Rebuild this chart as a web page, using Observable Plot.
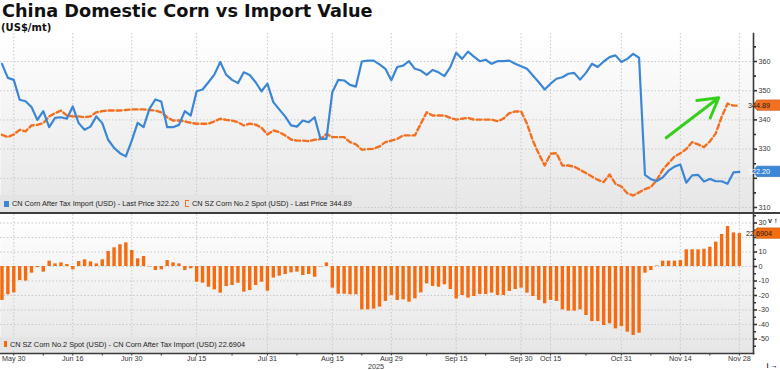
<!DOCTYPE html>
<html><head><meta charset="utf-8">
<script src="https://cdn.jsdelivr.net/npm/d3@7"></script>
<script src="https://cdn.jsdelivr.net/npm/@observablehq/plot@0.6"></script>
<style>
html,body{margin:0;padding:0;background:#fff;}
#root{position:relative;width:780px;height:370px;overflow:hidden;background:#fff;}
#title{position:absolute;left:2px;top:3px;font:bold 17.7px/17.7px "DejaVu Sans",sans-serif;color:#111;white-space:nowrap;}
#sub{position:absolute;left:1px;top:22.5px;font:bold 10px/10px "DejaVu Sans",sans-serif;color:#111;}
#top{position:absolute;left:0;top:33px;width:780px;}
#bot{position:absolute;left:0;top:214px;width:780px;}
#divider{position:absolute;left:0;top:211.8px;width:780px;height:2.6px;background:#3e3e3e;}
.leg{position:absolute;left:0;background:#e4e4e4;font:7.3px "Liberation Sans",Arial,sans-serif;color:#222;white-space:nowrap;display:flex;align-items:center;}
.sw{display:inline-block;width:5px;height:6px;margin:0 3px 0 4px;}
svg{display:block;}
</style></head><body>
<div id="root">
 <div id="title">China Domestic Corn vs Import Value</div>
 <div id="sub">(US$/mt)</div>
 <div id="top"></div>
 <div id="bot"></div>
 <div id="divider"></div>
 <div class="leg" id="leg1" style="top:195px;height:17px;width:352px;"></div>
 <div class="leg" id="leg2" style="top:337px;height:14px;width:245px;"></div>
</div>
<script>
// CN Corn After Tax Import (USD) - one value per trading day, May 28 .. Nov 28 2025
const importPrice = [
 359.2,354.4,353.7,346.9,346.4,344.4,340.0,343.0,337.5,340.7,
 340.9,340.4,344.6,338.9,336.6,337.7,341.2,338.9,333.2,330.4,
 328.6,327.5,332.9,339.0,337.5,343.8,347.0,346.3,337.5,337.5,
 338.3,343.0,341.5,349.8,350.4,352.9,355.5,359.8,355.5,353.7,
 352.6,356.3,355.4,352.9,349.8,352.4,346.1,343.6,341.2,338.1,
 337.7,339.8,339.2,340.9,333.5,333.5,349.5,353.7,353.5,352.0,
 351.4,360.0,360.3,360.3,359.0,357.5,353.6,358.1,358.6,360.1,
 357.5,356.9,355.4,357.1,356.3,355.0,358.1,363.0,360.9,363.4,
 361.7,360.1,360.6,359.2,360.1,360.1,360.3,359.2,358.4,357.5,
 355.2,352.9,350.4,352.4,354.1,354.6,355.8,356.1,353.8,356.1,
 359.2,358.1,360.0,361.5,362.1,359.8,360.9,362.6,361.3,321.2,
 319.7,319.1,320.3,322.6,324.0,324.7,318.5,321.0,321.2,318.9,
 319.8,319.0,319.0,318.1,322.0,322.20];
// CN SZ Corn No.2 Spot (USD)
const spotPrice = [
 334.9,334.1,335.0,336.6,336.1,338.1,338.3,338.9,341.2,342.3,
 343.2,341.5,341.2,341.2,340.9,341.2,342.6,343.0,343.2,343.2,
 343.2,343.4,343.6,343.6,343.6,343.4,343.2,342.6,340.9,339.8,
 339.8,339.5,339.0,338.7,338.7,338.7,339.5,340.4,340.0,339.8,
 339.2,338.1,338.7,338.4,337.3,335.0,336.4,335.8,334.7,333.3,
 332.9,332.9,332.7,333.2,333.4,335.2,334.1,334.1,334.1,332.4,
 331.6,329.8,330.0,330.1,330.9,332.4,332.9,333.5,334.7,334.7,
 334.7,338.7,342.6,341.5,341.5,341.5,340.7,340.1,340.4,340.7,
 340.1,340.1,340.1,340.1,339.6,340.4,342.3,342.9,342.9,338.7,
 332.9,328.4,324.4,328.4,328.6,324.4,324.4,324.0,322.9,321.8,
 320.6,319.5,318.7,321.3,318.1,317.2,314.9,314.1,315.2,316.3,
 317.0,319.4,322.9,325.2,327.4,328.6,330.0,332.4,331.6,330.7,
 332.6,335.4,341.0,345.6,344.9,344.89];
// Spread: Spot - After Tax Import (USD)
const spread = [
 -23.4,-19.5,-18.2,-9.7,-10.1,-4.6,-0.8,-3.9,3.7,1.8,
 2.5,1.4,-2.3,3.4,4.6,3.2,1.8,4.6,10.3,12.9,
 15.0,16.3,11.0,5.3,6.9,-0.3,-2.8,-2.3,4.1,2.5,
 1.8,-2.8,-1.6,-10.8,-11.5,-14.3,-16.1,-18.4,-13.8,-13.1,
 -11.5,-17.7,-16.6,-13.1,-10.8,-17.0,-8.0,-6.7,-5.5,-4.4,
 -3.9,-6.2,-5.5,-7.4,-0.3,2.5,-14.9,-19.1,-19.1,-19.5,
 -19.5,-29.9,-29.9,-29.4,-28.0,-24.1,-20.0,-23.4,-23.0,-24.6,
 -22.3,-18.2,-12.0,-13.8,-14.3,-12.6,-15.9,-22.3,-20.0,-21.8,
 -20.7,-19.3,-19.3,-18.4,-20.0,-20.0,-17.2,-15.9,-14.9,-18.4,
 -20.7,-23.4,-25.7,-23.4,-24.1,-29.9,-30.8,-30.8,-29.9,-33.8,
 -38.0,-38.0,-40.7,-39.5,-43.0,-41.4,-45.3,-47.6,-46.0,-4.6,
 -2.8,0.4,3.7,3.7,3.7,4.1,11.5,11.5,11.5,11.9,
 13.3,16.8,22.1,27.6,23.2,22.6904];

const tickIdx    = [2,12,22,33,45,56,66,77,88,93,105,115,125];
const tickLabels = ["May 30","Jun 16","Jun 30","Jul 15","Jul 31","Aug 15","Aug 29","Sep 15","Sep 30","Oct 15","Oct 31","Nov 14","Nov 28"];
const minorTickIdx = [7,17,27,39,50,61,72,82,99,110,120];
const yTicksTop = [310,320,330,340,350,360];
const yMinorTop = [315,325,335,345,355,365];
const yTicksBot = [-50,-40,-30,-20,-10,0,10,20,30];
const yMinorBot = [-55,-45,-35,-25,-15,-5,5,15,25,35];
// tick labels hidden behind the last-value tags in the reference
const hiddenTop = [320];
const hiddenBot = [20];
const yearLabel = [{i: 63.4, text: "2025"}];
const trendArrow = [{x1: 112.6, y1: 333.9, x2: 121.5, y2: 347.6}];

const names = {
  imp: "CN Corn After Tax Import (USD) - Last Price ",
  spot: "CN SZ Corn No.2 Spot (USD) - Last Price ",
  spread: "CN SZ Corn No.2 Spot (USD) - CN Corn After Tax Import (USD) "
};
const colors = {imp: "#3b87d6", spot: "#f37021", bar: "#f46b10", arrow: "#36cf1c"};

const xDomain = [-0.25, 127.4];
const labelMap = new Map(tickIdx.map((d, k) => [d, tickLabels[k]]));
const topData = importPrice.map((v, i) => ({i, imp: v, spot: spotPrice[i]}));
const botData = spread.map((v, i) => ({i, v}));
const font = "'Liberation Sans', Arial, sans-serif";
const gridStyle = {stroke: "#c9c9c9", strokeOpacity: 1, strokeDasharray: "1.5,2", strokeWidth: 1};
const axisStyle = {anchor: "right", tickSize: 3, tickPadding: 2, stroke: "#333", strokeWidth: 1.6, fill: "#333"};

function addGradient(svg, id) {
  const defs = d3.select(svg).insert("defs", ":first-child");
  const lg = defs.append("linearGradient").attr("id", id)
    .attr("x1", 0).attr("y1", 0).attr("x2", 0).attr("y2", 1);
  lg.append("stop").attr("offset", "0%").attr("stop-color", "#ffffff");
  lg.append("stop").attr("offset", "100%").attr("stop-color", "#e6e6e6");
}

function addTag(plot, value, text, fill, textFill) {
  const y = plot.scale("y").apply(value);
  const x0 = plot.scale("x").apply(xDomain[1]);
  const g = d3.select(plot).append("g");
  g.append("path")
    .attr("d", `M ${x0} ${y} L ${x0 + 4} ${y - 5.2} L 782 ${y - 5.2} L 782 ${y + 5.2} L ${x0 + 4} ${y + 5.2} Z`)
    .style("fill", fill).style("stroke", d3.color(fill).darker(0.5).formatHex()).style("stroke-width", "0.7px");
  g.append("text").attr("x", x0 + 6).attr("y", y).attr("dy", "0.36em")
    .style("font-family", font).style("font-size", "7.2px").style("fill", textFill).text(text);
}

const p1 = Plot.plot({
  width: 780, height: 179,
  marginLeft: 0, marginRight: 27, marginTop: 0, marginBottom: 0,
  style: {fontFamily: font, fontSize: "7.2px", color: "#333", background: "transparent", overflow: "visible"},
  x: {domain: xDomain, axis: null},
  y: {domain: [308.29, 369.59], axis: null},
  marks: [
    Plot.frame({fill: "url(#gTop)", stroke: "none"}),
    Plot.gridX(tickIdx, gridStyle),
    Plot.gridY(yTicksTop, gridStyle),
    Plot.line(topData, {x: "i", y: "spot", stroke: colors.spot, strokeWidth: 2.4, strokeDasharray: "5,3"}),
    Plot.line(topData, {x: "i", y: "imp", stroke: colors.imp, strokeWidth: 2.2}),
    Plot.arrow(trendArrow, {x1: "x1", y1: "y1", x2: "x2", y2: "y2", stroke: colors.arrow, strokeWidth: 3, headLength: 16, headAngle: 60}),
    Plot.axisY(yTicksTop, {...axisStyle, tickFormat: d => hiddenTop.includes(d) ? "" : d}),
    Plot.axisY(yMinorTop, {...axisStyle, tickSize: 2, tickFormat: () => ""}),
    Plot.frame({anchor: "right", stroke: "#3a3a3a", strokeWidth: 1.6})
  ]
});
addGradient(p1, "gTop");
document.getElementById("top").appendChild(p1);
addTag(p1, spotPrice[spotPrice.length - 1], d3.format(".2f")(spotPrice[spotPrice.length - 1]), colors.spot, "#1a1a1a");
addTag(p1, importPrice[importPrice.length - 1], d3.format(".2f")(importPrice[importPrice.length - 1]), colors.imp, "#ffffff");

const p2 = Plot.plot({
  width: 780, height: 156,
  marginLeft: 0, marginRight: 27, marginTop: 0, marginBottom: 17,
  style: {fontFamily: font, fontSize: "7.2px", color: "#333", background: "transparent", overflow: "visible"},
  x: {domain: xDomain, axis: null},
  y: {domain: [-60, 35.86], axis: null},
  marks: [
    Plot.frame({fill: "url(#gBot)", stroke: "none"}),
    Plot.gridX(tickIdx, gridStyle),
    Plot.gridY(yTicksBot, gridStyle),
    Plot.ruleX(botData, {x: "i", y1: 0, y2: "v", stroke: colors.bar, strokeWidth: 3.4}),
    Plot.axisY(yTicksBot, {...axisStyle, tickFormat: d => hiddenBot.includes(d) ? "" : d}),
    Plot.axisY(yMinorBot, {...axisStyle, tickSize: 2, tickFormat: () => ""}),
    Plot.axisX(tickIdx, {anchor: "bottom", tickSize: 2.5, tickPadding: 0, stroke: "#333", fill: "#333", tickFormat: d => labelMap.get(d)}),
    Plot.axisX(minorTickIdx, {anchor: "bottom", tickSize: 2.5, stroke: "#333", tickFormat: () => ""}),
    Plot.frame({anchor: "right", stroke: "#3a3a3a", strokeWidth: 1.6}),
    Plot.frame({anchor: "bottom", stroke: "#3a3a3a", strokeWidth: 1.6}),
    Plot.text(yearLabel, {x: "i", text: "text", frameAnchor: "bottom", dy: 15, fill: "#333"})
  ]
});
addGradient(p2, "gBot");
document.getElementById("bot").appendChild(p2);
addTag(p2, spread[spread.length - 1], d3.format(".4f")(spread[spread.length - 1]), colors.bar, "#1a1a1a");

// legends
const last = a => a[a.length - 1];
document.getElementById("leg1").innerHTML =
  `<span class="sw" style="background:${colors.imp}"></span>${names.imp}${d3.format(".2f")(last(importPrice))}` +
  `<span class="sw" style="margin-left:6px;width:3px;height:5px;border:1.5px solid ${colors.spot};border-right:none;"></span>${names.spot}${d3.format(".2f")(last(spotPrice))}`;
document.getElementById("leg2").innerHTML =
  `<span class="sw" style="background:${colors.bar}"></span>${names.spread}${d3.format(".4f")(last(spread))}`;
</script>
</body></html>
